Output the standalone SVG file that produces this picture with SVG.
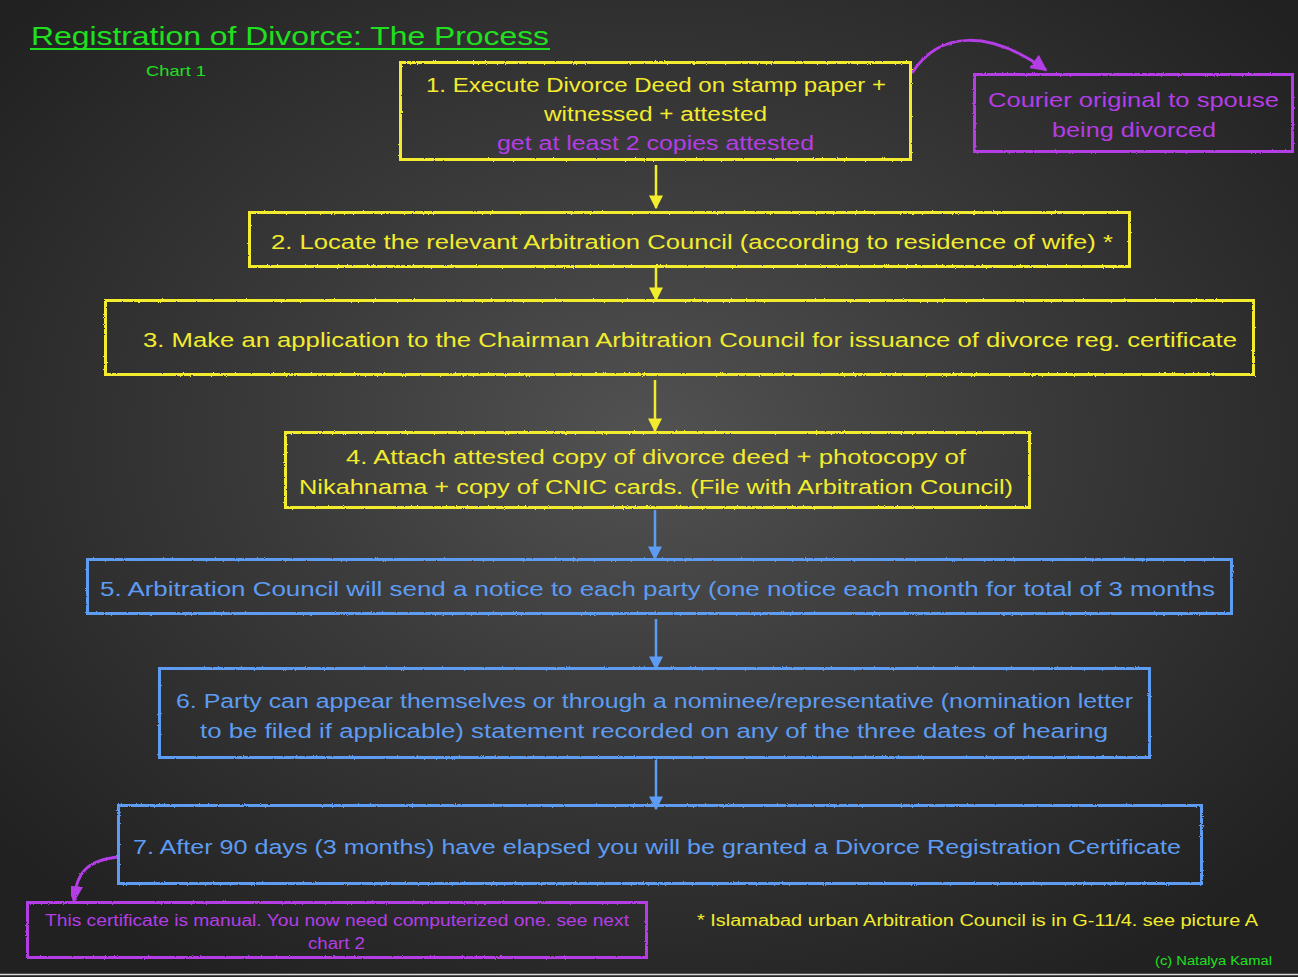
<svg xmlns="http://www.w3.org/2000/svg" width="1298" height="977" viewBox="0 0 1298 977">
<defs>
<radialGradient id="bg" cx="0.5" cy="0.45" r="0.65">
<stop offset="0" stop-color="#525252"/>
<stop offset="0.45" stop-color="#3a3a3a"/>
<stop offset="1" stop-color="#212121"/>
</radialGradient>
<filter id="chalk" x="-5%" y="-5%" width="110%" height="110%">
<feTurbulence type="fractalNoise" baseFrequency="0.9" numOctaves="2" seed="3" result="n"/>
<feDisplacementMap in="SourceGraphic" in2="n" scale="2.2"/>
</filter>
<marker id="ay" viewBox="0 0 10 10" refX="9" refY="5" markerWidth="5.6" markerHeight="6" orient="auto" markerUnits="strokeWidth">
<path d="M0,0 L10,5 L0,10 z" fill="#f3ec2e"/>
</marker>
<marker id="ab" viewBox="0 0 10 10" refX="9" refY="5" markerWidth="5.6" markerHeight="6" orient="auto" markerUnits="strokeWidth">
<path d="M0,0 L10,5 L0,10 z" fill="#5d9cf2"/>
</marker>
<marker id="ap" viewBox="0 0 10 10" refX="9" refY="5" markerWidth="5.5" markerHeight="5.5" orient="auto" markerUnits="strokeWidth">
<path d="M0,0 L10,5 L0,10 z" fill="#b43de6"/>
</marker>
</defs>
<style>
.t{font-family:"Liberation Sans","DejaVu Sans",sans-serif;}
.y{fill:#f3ec2e;}
.b{fill:#5d9cf2;}
.p{fill:#b43de6;}
.g{fill:#1fe01f;}
.by{fill:none;stroke:#f3ec2e;stroke-width:3;}
.bb{fill:none;stroke:#5d9cf2;stroke-width:3;}
.bp{fill:none;stroke:#b43de6;stroke-width:3;}
.cy{fill:none;stroke:#f3ec2e;stroke-width:2.5;}
.cb{fill:none;stroke:#5d9cf2;stroke-width:2.5;}
.cp{fill:none;stroke:#b43de6;stroke-width:3;}
</style>
<rect x="0" y="0" width="1298" height="977" fill="url(#bg)"/>
<line x1="0" y1="974.5" x2="1298" y2="974.5" stroke="#d8d8d8" stroke-width="1.5"/>

<g id="title">
<text class="t g" x="31" y="45" font-size="26" textLength="518" lengthAdjust="spacingAndGlyphs">Registration of Divorce: The Process</text>
<line x1="30" y1="49" x2="550" y2="49" stroke="#1fe01f" stroke-width="2"/>
<text class="t g" x="146" y="76" font-size="15" textLength="60" lengthAdjust="spacingAndGlyphs">Chart 1</text>
</g>

<g id="connectors">
<line class="cy" x1="656" y1="165" x2="656" y2="208" marker-end="url(#ay)"/>
<line class="cy" x1="656" y1="268" x2="656" y2="300" marker-end="url(#ay)"/>
<line class="cy" x1="655" y1="380" x2="655" y2="431" marker-end="url(#ay)"/>
<line class="cb" x1="655" y1="510" x2="655" y2="559" marker-end="url(#ab)"/>
<line class="cb" x1="656" y1="619" x2="656" y2="669" marker-end="url(#ab)"/>
<line class="cb" x1="656" y1="760" x2="656" y2="809" marker-end="url(#ab)"/>
<path class="cp" d="M912,73 C940,30 990,30 1046,70" marker-end="url(#ap)" filter="url(#chalk)"/>
<path class="cp" d="M118,857 C90,860 76,870 74,901" marker-end="url(#ap)" filter="url(#chalk)"/>
</g>

<g id="n1">
<rect class="by" x="400.5" y="62.5" width="510" height="97" filter="url(#chalk)"/>
<text class="t y" x="426" y="92" font-size="20" textLength="460" lengthAdjust="spacingAndGlyphs">1. Execute Divorce Deed on stamp paper +</text>
<text class="t y" x="544" y="121" font-size="20" textLength="223" lengthAdjust="spacingAndGlyphs">witnessed + attested</text>
<text class="t p" x="497" y="150" font-size="20" textLength="317" lengthAdjust="spacingAndGlyphs">get at least 2 copies attested</text>
</g>

<g id="courier">
<rect class="bp" x="974.5" y="74.5" width="318" height="77" filter="url(#chalk)"/>
<text class="t p" x="988" y="107" font-size="21" textLength="291" lengthAdjust="spacingAndGlyphs">Courier original to spouse</text>
<text class="t p" x="1052" y="137" font-size="21" textLength="164" lengthAdjust="spacingAndGlyphs">being divorced</text>
</g>

<g id="n2">
<rect class="by" x="249.5" y="212.5" width="880" height="54" filter="url(#chalk)"/>
<text class="t y" x="271" y="249" font-size="20" textLength="842" lengthAdjust="spacingAndGlyphs">2. Locate the relevant Arbitration Council (according to residence of wife) *</text>
</g>

<g id="n3">
<rect class="by" x="105.5" y="300.5" width="1148" height="74" filter="url(#chalk)"/>
<text class="t y" x="143" y="347" font-size="20" textLength="1094" lengthAdjust="spacingAndGlyphs">3. Make an application to the Chairman Arbitration Council for issuance of divorce reg. certificate</text>
</g>

<g id="n4">
<rect class="by" x="285.5" y="432.5" width="744" height="75" filter="url(#chalk)"/>
<text class="t y" x="346" y="464" font-size="20" textLength="620" lengthAdjust="spacingAndGlyphs">4. Attach attested copy of divorce deed  + photocopy of</text>
<text class="t y" x="299" y="494" font-size="20" textLength="714" lengthAdjust="spacingAndGlyphs">Nikahnama + copy of CNIC cards. (File with Arbitration Council)</text>
</g>

<g id="n5">
<rect class="bb" x="87.5" y="559.5" width="1144" height="54" filter="url(#chalk)"/>
<text class="t b" x="100" y="596" font-size="20" textLength="1115" lengthAdjust="spacingAndGlyphs">5. Arbitration Council will send a notice to each party (one notice each month for total of 3 months</text>
</g>

<g id="n6">
<rect class="bb" x="159.5" y="668.5" width="990" height="89" filter="url(#chalk)"/>
<text class="t b" x="176" y="708" font-size="20" textLength="957" lengthAdjust="spacingAndGlyphs">6. Party can appear themselves or through a nominee/representative (nomination letter</text>
<text class="t b" x="200" y="738" font-size="20" textLength="908" lengthAdjust="spacingAndGlyphs">to be filed if applicable) statement recorded on any of the three dates of hearing</text>
</g>

<g id="n7">
<rect class="bb" x="118.5" y="805.5" width="1083" height="78" filter="url(#chalk)"/>
<text class="t b" x="133" y="854" font-size="20" textLength="1048" lengthAdjust="spacingAndGlyphs">7. After 90 days (3 months) have elapsed you will be granted a Divorce Registration Certificate</text>
</g>

<g id="manual">
<rect class="bp" x="27.5" y="902.5" width="619" height="55" filter="url(#chalk)"/>
<text class="t p" x="45" y="926" font-size="16" textLength="584" lengthAdjust="spacingAndGlyphs">This certificate is manual. You now need computerized one. see next</text>
<text class="t p" x="308" y="949" font-size="16" textLength="57" lengthAdjust="spacingAndGlyphs">chart 2</text>
</g>

<g id="notes">
<text class="t y" x="697" y="926" font-size="16" textLength="561" lengthAdjust="spacingAndGlyphs">* Islamabad urban Arbitration Council is in G-11/4. see picture A</text>
<text class="t g" x="1155" y="965" font-size="12" textLength="117" lengthAdjust="spacingAndGlyphs">(c) Natalya Kamal</text>
</g>
</svg>
